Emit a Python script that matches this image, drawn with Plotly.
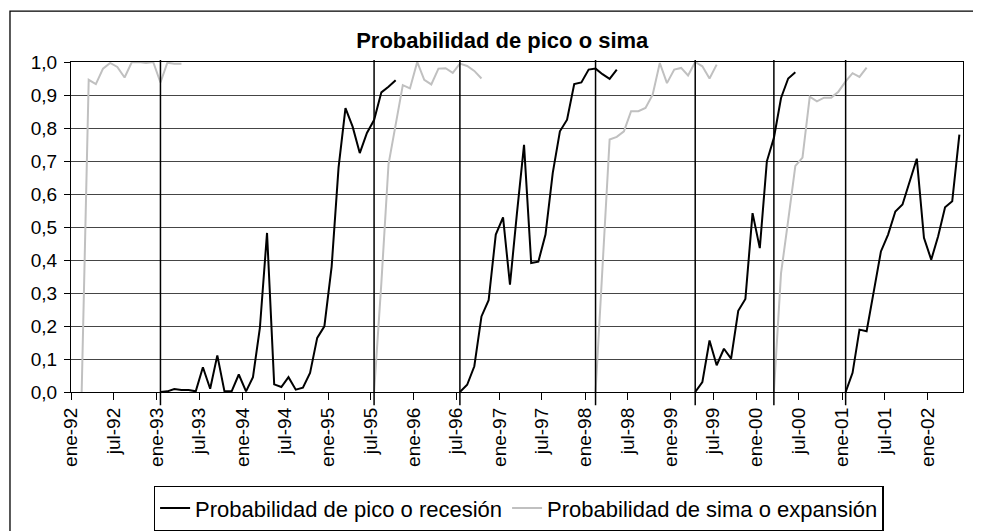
import pandas as pd
import plotly.graph_objects as go

# meses del eje (categorías mensuales)
meses = pd.date_range("1992-01-01", "2002-05-01", freq="MS")

# Probabilidad de pico o recesión: tramos (mes inicial + valores mensuales)
pico_inicio = ["1993-01", "1996-07", "1999-04", "2001-01"]
pico_1 = [0.0, 0.002, 0.009, 0.006, 0.006, 0.002, 0.075, 0.01, 0.111, 0.002,
          0.002, 0.053, 0.002, 0.045, 0.194, 0.482, 0.023, 0.015, 0.045, 0.007,
          0.013, 0.058, 0.164, 0.199, 0.38, 0.68, 0.86, 0.804, 0.724, 0.785,
          0.824, 0.908, 0.925, 0.945]
pico_2 = [0.0, 0.022, 0.078, 0.229, 0.278, 0.477, 0.529, 0.325, 0.54, 0.749,
          0.391, 0.395, 0.477, 0.664, 0.79, 0.825, 0.933, 0.938, 0.977, 0.98,
          0.963, 0.949, 0.977]
pico_3 = [0.0, 0.03, 0.156, 0.081, 0.131, 0.101, 0.246, 0.282, 0.542, 0.436,
          0.699, 0.77, 0.891, 0.95, 0.969]
pico_4 = [0.0, 0.058, 0.189, 0.184, 0.305, 0.426, 0.477, 0.547, 0.568, 0.638,
          0.707, 0.467, 0.401, 0.472, 0.56, 0.578, 0.78]

# Probabilidad de sima o expansión
sima_inicio = ["1992-02", "1995-07", "1998-02", "2000-03"]
sima_1 = [0.0, 0.946, 0.933, 0.98, 0.997, 0.985, 0.953, 0.999, 1.0, 0.997,
          1.0, 0.938, 0.998, 0.995, 0.995]
sima_2 = [0.0, 0.33, 0.69, 0.81, 0.93, 0.92, 1.0, 0.946, 0.932, 0.98,
          0.981, 0.967, 0.995, 0.988, 0.973, 0.95]
sima_3 = [0.0, 0.38, 0.765, 0.773, 0.79, 0.851, 0.851, 0.861, 0.901, 0.997,
          0.936, 0.977, 0.982, 0.959, 1.0, 0.987, 0.95, 0.992]
sima_4 = [0.0, 0.36, 0.52, 0.685, 0.71, 0.895, 0.881, 0.892, 0.892, 0.91,
          0.941, 0.966, 0.955, 0.983]

# puntos de giro (líneas verticales)
puntos_giro = ["1993-01", "1995-07", "1996-07", "1998-02", "1999-04", "2000-03", "2001-01"]

tick_fechas = ["1992-01-01", "1992-07-01", "1993-01-01", "1993-07-01", "1994-01-01",
               "1994-07-01", "1995-01-01", "1995-07-01", "1996-01-01", "1996-07-01",
               "1997-01-01", "1997-07-01", "1998-01-01", "1998-07-01", "1999-01-01",
               "1999-07-01", "2000-01-01", "2000-07-01", "2001-01-01", "2001-07-01",
               "2002-01-01"]
tick_labels = ["ene-92", "jul-92", "ene-93", "jul-93", "ene-94", "jul-94", "ene-95",
               "jul-95", "ene-96", "jul-96", "ene-97", "jul-97", "ene-98", "jul-98",
               "ene-99", "jul-99", "ene-00", "jul-00", "ene-01", "jul-01", "ene-02"]

FUENTE = "Liberation Sans, Arial, sans-serif"


def serie(inicios, tramos):
    s = pd.Series(index=meses, dtype=float)
    for ini, vals in zip(inicios, tramos):
        idx = pd.date_range(ini + "-01", periods=len(vals), freq="MS")
        s.loc[idx] = vals
    return [None if pd.isna(v) else v for v in s]


def mitad_mes(m):
    t = pd.Timestamp(m + "-01")
    return t + (t + pd.offsets.MonthBegin(1) - t) / 2


def main():
    fig = go.Figure()
    fig.add_trace(go.Scatter(
        x=meses, y=serie(pico_inicio, [pico_1, pico_2, pico_3, pico_4]),
        mode="lines", name="Probabilidad de pico o recesión",
        line=dict(color="black", width=2),
        xperiod="M1", xperiodalignment="middle", connectgaps=False
    ))
    fig.add_trace(go.Scatter(
        x=meses, y=serie(sima_inicio, [sima_1, sima_2, sima_3, sima_4]),
        mode="lines", name="Probabilidad de sima o expansión",
        line=dict(color="#c0c0c0", width=2),
        xperiod="M1", xperiodalignment="middle", connectgaps=False
    ))

    for p in puntos_giro:
        fig.add_shape(type="line", xref="x", yref="paper",
                      x0=mitad_mes(p), x1=mitad_mes(p), y0=-0.04, y1=1.006,
                      line=dict(color="black", width=1.5))

    # marco exterior del gráfico
    fig.add_shape(type="rect", xref="paper", yref="paper",
                  x0=-0.0684, x1=1.06, y0=-0.5, y1=1.154,
                  line=dict(color="black", width=1.3))

    fig.update_xaxes(
        type="date", range=["1992-01-01", "2002-06-01"],
        tickvals=tick_fechas, ticktext=tick_labels, tickangle=-90,
        ticks="outside", ticklen=7, tickcolor="black",
        showgrid=False, showline=True, mirror=True,
        linecolor="black", linewidth=1.3, automargin=False,
        tickfont=dict(size=19, color="black", family=FUENTE)
    )
    fig.update_yaxes(
        range=[0, 1], dtick=0.1, tickformat=".1f",
        ticks="outside", ticklen=6, tickcolor="black",
        showgrid=True, gridcolor="#454545", gridwidth=1.3,
        showline=True, mirror=True, linecolor="black", linewidth=1.3,
        zeroline=False, automargin=False, ticklabelstandoff=3,
        tickfont=dict(size=19, color="black", family=FUENTE)
    )
    fig.update_layout(
        width=981, height=531,
        margin=dict(l=63, r=26, t=54, b=147),
        paper_bgcolor="white", plot_bgcolor="white",
        separators=", ",
        font=dict(family=FUENTE, color="black"),
        title=dict(text="<b>Probabilidad de pico o sima</b>",
                   x=0.4835, xanchor="center", xref="paper",
                   y=1 - 32 / 531, yanchor="middle",
                   font=dict(size=22, color="black", family=FUENTE)),
        legend=dict(orientation="h", x=0.502, xanchor="center",
                    yref="container", y=1 - 478 / 531, yanchor="top",
                    bordercolor="black", borderwidth=1.3,
                    font=dict(size=22, color="black", family=FUENTE)),
        showlegend=True
    )
    fig.write_html("out.html")


if __name__ == "__main__":
    main()
